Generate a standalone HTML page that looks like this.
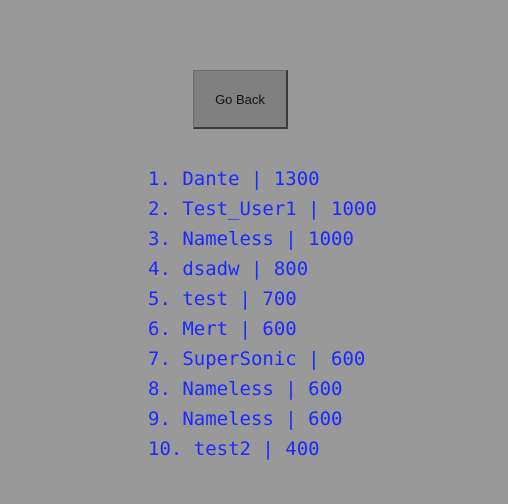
<!DOCTYPE html>
<html><head><style>
html,body{margin:0;padding:0;width:508px;height:504px;background:#999999;overflow:hidden}
.btn{position:absolute;left:193px;top:70px;width:92px;height:56px;background:#808080;border:1px solid #6a6a6a;border-right:2px solid #3a3a3a;border-bottom:2px solid #3a3a3a;font-family:"Liberation Sans",sans-serif;font-size:13px;color:#111;display:flex;align-items:center;justify-content:center}
.list{position:absolute;left:148px;top:164px;font-family:"DejaVu Sans Mono",monospace;font-size:19px;line-height:30px;color:#1a2aff;white-space:pre}
</style></head><body>
<div class="btn">Go Back</div>
<div class="list">1. Dante | 1300
2. Test_User1 | 1000
3. Nameless | 1000
4. dsadw | 800
5. test | 700
6. Mert | 600
7. SuperSonic | 600
8. Nameless | 600
9. Nameless | 600
10. test2 | 400</div>
</body></html>
